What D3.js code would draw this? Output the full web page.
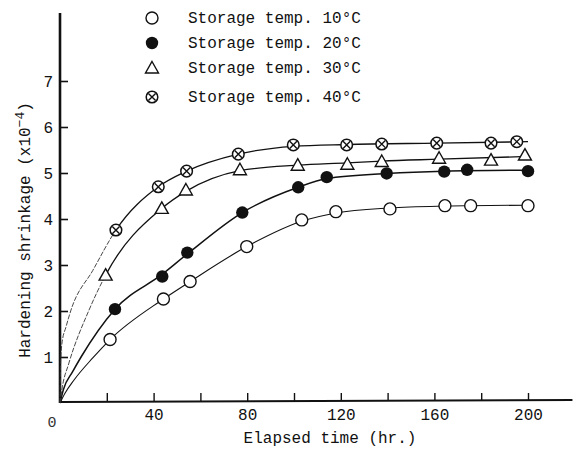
<!DOCTYPE html>
<html>
<head>
<meta charset="utf-8">
<script src="https://cdn.jsdelivr.net/npm/d3@7"></script>
<style>
  html, body { margin: 0; padding: 0; background: #fff; }
  svg { display: block; font-family: "Liberation Mono", "DejaVu Sans Mono", monospace; }
</style>
</head>
<body>
<svg id="chart" width="579" height="449"></svg>
<script>
// ---------- data ----------
var legendLabels = ["Storage temp. 10°C", "Storage temp. 20°C", "Storage temp. 30°C", "Storage temp. 40°C"];
var markerKinds = ["open", "filled", "triangle", "cross"];

// measured points
var t10 = [21.4, 44.2, 55.6, 79.8, 103.3, 117.9, 141, 164.5, 175.5, 200];
var v10 = [1.38, 2.26, 2.64, 3.40, 3.98, 4.16, 4.22, 4.29, 4.29, 4.29];
var t20 = [23.5, 43.7, 54.4, 77.9, 101.8, 114, 139.6, 164.2, 174, 200];
var v20 = [2.04, 2.75, 3.27, 4.14, 4.69, 4.91, 4.99, 5.03, 5.07, 5.04];
var t30 = [19.5, 43.5, 53.8, 76.9, 101.6, 122.8, 137.5, 162, 184.2, 198.7];
var v30 = [2.78, 4.23, 4.63, 5.07, 5.17, 5.19, 5.25, 5.32, 5.28, 5.39];
var t40 = [23.9, 42, 54.1, 76.2, 99.7, 122.5, 137.5, 161, 184.2, 195.2];
var v40 = [3.76, 4.70, 5.04, 5.41, 5.61, 5.61, 5.63, 5.65, 5.65, 5.68];

// fitted curves
var c10T = [0, 2, 6, 14, 21.4, 44.2, 55.6, 79.8, 103.3, 117.9, 141, 164.5, 200];
var c10V = [0, 0.2, 0.5, 0.98, 1.38, 2.26, 2.64, 3.40, 3.95, 4.13, 4.24, 4.28, 4.30];
var c20T = [0, 1.5, 5.4, 9, 23.5, 43.7, 54.4, 77.9, 101.8, 114, 139.6, 164, 200];
var c20V = [0, 0.3, 0.68, 1.0, 2.04, 2.80, 3.24, 4.14, 4.69, 4.88, 4.99, 5.04, 5.06];
var c30T = [0, 1, 3.7, 12.4, 19.5, 43.5, 53.8, 76.9, 101.6, 122.8, 137.5, 162, 200];
var c30V = [0, 0.35, 0.85, 2.02, 2.78, 4.23, 4.60, 5.05, 5.17, 5.22, 5.26, 5.30, 5.36];
var c40T = [0, 0.3, 0.85, 2.6, 4.7, 14, 23.9, 42, 54.1, 76.2, 99.7, 122.5, 161, 200];
var c40V = [0, 0.9, 1.3, 1.66, 2.02, 2.88, 3.76, 4.70, 5.04, 5.41, 5.58, 5.62, 5.65, 5.68];

var xTicks = [20, 40, 60, 80, 100, 120, 140, 160, 180, 200];
var xTickLabels = [40, 80, 120, 160, 200];
var yTicks = [1, 2, 3, 4, 5, 6, 7];

// ---------- setup ----------
var svg = d3.select("#chart");
var x = d3.scaleLinear().domain([0, 200]).range([60, 528]);
var y = d3.scaleLinear().domain([0, 7]).range([403, 81]);
var ink = "#111";

function zip(ts, vs) { return ts.map(function (t, j) { return { t: t, v: vs[j] }; }); }
var series = [
  { pts: zip(t10, v10), curve: zip(c10T, c10V), sw: 1.1, dashedStart: false },
  { pts: zip(t20, v20), curve: zip(c20T, c20V), sw: 1.5, dashedStart: false },
  { pts: zip(t30, v30), curve: zip(c30T, c30V), sw: 1.3, dashedStart: true },
  { pts: zip(t40, v40), curve: zip(c40T, c40V), sw: 1.3, dashedStart: true }
];
series.forEach(function (s, i) { s.kind = markerKinds[i]; s.label = legendLabels[i]; });

// ---------- axes ----------
svg.append("line").attr("x1", x(0)).attr("x2", x(0)).attr("y1", y(0)).attr("y2", y(8.48))
  .attr("stroke", ink).attr("stroke-width", 2.6);
svg.append("line").attr("x1", x(0)).attr("x2", x(219)).attr("y1", y(0) - 1).attr("y2", y(0) - 3)
  .attr("stroke", ink).attr("stroke-width", 2.2);

var gy = svg.append("g").attr("transform", "translate(" + x(0) + ",0)")
  .call(d3.axisLeft(y).tickValues(yTicks).tickSize(-8).tickPadding(7).tickFormat(d3.format("d")));
gy.select(".domain").remove();
gy.selectAll("line").attr("stroke", ink).attr("stroke-width", 1.6);
gy.selectAll("text").attr("font-size", 16).attr("fill", ink).attr("font-family", "Liberation Mono");

var gx = svg.append("g").attr("transform", "translate(0," + (y(0) - 2) + ")")
  .call(d3.axisBottom(x).tickValues(xTicks).tickSize(-8).tickPadding(8)
    .tickFormat(function (d) { return xTickLabels.indexOf(d) >= 0 ? d : ""; }));
gx.select(".domain").remove();
gx.selectAll("line").attr("stroke", ink).attr("stroke-width", 1.4);
gx.selectAll("text").attr("font-size", 16).attr("fill", ink).attr("font-family", "Liberation Mono");

svg.append("text").attr("x", x(0) - 8).attr("y", y(0) + 24).attr("text-anchor", "middle")
  .attr("font-size", 15).attr("fill", "#333").text("0");

svg.append("text").attr("x", 330).attr("y", 443).attr("text-anchor", "middle")
  .attr("font-size", 16).attr("fill", ink).text("Elapsed time (hr.)");

var yt = svg.append("text").attr("transform", "translate(30,230) rotate(-90)").attr("text-anchor", "middle")
  .attr("font-size", 16).attr("fill", ink);
yt.append("tspan").text("Hardening shrinkage (x10");
yt.append("tspan").attr("dy", -6).attr("font-size", 13).text("−4");
yt.append("tspan").attr("dy", 6).text(")");

// ---------- curves ----------
var line = d3.line().x(function (d) { return x(d.t); }).y(function (d) { return y(d.v); }).curve(d3.curveMonotoneX);
var defs = svg.append("defs");
series.forEach(function (s, i) {
  if (!s.dashedStart) {
    svg.append("path").datum(s.curve).attr("d", line)
      .attr("fill", "none").attr("stroke", ink).attr("stroke-width", s.sw);
    return;
  }
  // thin, broken segment from origin to the first point; solid after it
  var cut = x(s.pts[0].t);
  defs.append("clipPath").attr("id", "pre" + i).append("rect").attr("x", 0).attr("y", 0).attr("width", cut).attr("height", 449);
  defs.append("clipPath").attr("id", "post" + i).append("rect").attr("x", cut).attr("y", 0).attr("width", 579 - cut).attr("height", 449);
  svg.append("path").datum(s.curve).attr("d", line).attr("clip-path", "url(#pre" + i + ")")
    .attr("fill", "none").attr("stroke", "#333").attr("stroke-width", 0.9).attr("stroke-dasharray", "5,1.5");
  svg.append("path").datum(s.curve).attr("d", line).attr("clip-path", "url(#post" + i + ")")
    .attr("fill", "none").attr("stroke", ink).attr("stroke-width", s.sw);
});

// ---------- markers ----------
function marker(g, kind, cx, cy) {
  if (kind === "open") {
    g.append("circle").attr("cx", cx).attr("cy", cy).attr("r", 6).attr("fill", "#fff").attr("stroke", ink).attr("stroke-width", 1.4);
  } else if (kind === "filled") {
    g.append("circle").attr("cx", cx).attr("cy", cy).attr("r", 6.2).attr("fill", ink);
  } else if (kind === "triangle") {
    g.append("path").attr("d", "M" + cx + "," + (cy - 6.5) + "L" + (cx + 6.5) + "," + (cy + 5) + "L" + (cx - 6.5) + "," + (cy + 5) + "Z")
      .attr("fill", "#fff").attr("stroke", ink).attr("stroke-width", 1.4);
  } else {
    g.append("circle").attr("cx", cx).attr("cy", cy).attr("r", 5.8).attr("fill", "#fff").attr("stroke", ink).attr("stroke-width", 1.5);
    var k = 3.6;
    g.append("path").attr("d", "M" + (cx - k) + "," + (cy - k) + "L" + (cx + k) + "," + (cy + k) + "M" + (cx + k) + "," + (cy - k) + "L" + (cx - k) + "," + (cy + k))
      .attr("stroke", ink).attr("stroke-width", 1.4);
  }
}
series.forEach(function (s) {
  var g = svg.append("g");
  s.pts.forEach(function (p) { marker(g, s.kind, x(p.t), y(p.v)); });
});

// ---------- legend ----------
var legendY = [18, 43, 68, 97];
series.forEach(function (s, i) {
  var g = svg.append("g");
  marker(g, s.kind, 152, legendY[i]);
  g.append("text").attr("x", 188).attr("y", legendY[i] + 5).attr("font-size", 16).attr("fill", ink).text(s.label);
});
</script>
</body>
</html>
